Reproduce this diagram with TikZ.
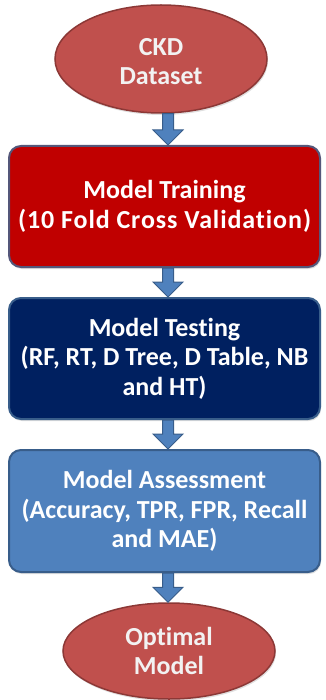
\documentclass[tikz,border=0pt]{standalone}
\usepackage{fontspec}
\setmainfont{Carlito}[Ligatures=NoCommon]
\usetikzlibrary{shapes.geometric,calc,shadows}
\definecolor{ellfill}{HTML}{C0504D}
\definecolor{elledge}{HTML}{8C3836}
\definecolor{redfill}{HTML}{C00000}
\definecolor{navyfill}{HTML}{002060}
\definecolor{bluefill}{HTML}{4F81BD}
\definecolor{blueedge}{HTML}{385D8A}
\definecolor{rededge}{HTML}{54577A}
\definecolor{elltext}{HTML}{F2F2F2}
\tikzset{
  boxtext/.style={font=\bfseries\fontsize{26}{29.5}\selectfont, align=center, text=white},
  ovalnode/.style={ellipse, fill=ellfill, draw=elledge, line width=1.5pt, inner sep=0pt,
    boxtext, text=elltext, drop shadow={shadow xshift=1pt, shadow yshift=-2pt, opacity=0.25}},
  stagebox/.style={rectangle, rounded corners=12pt, line width=2pt, draw=blueedge, inner sep=0pt,
    minimum width=311pt, minimum height=121pt, boxtext,
    drop shadow={shadow xshift=1pt, shadow yshift=-2pt, opacity=0.25}},
  blockarrow/.style={fill=bluefill, draw=blueedge, line width=1pt,
    to path={let \p1=(\tikztostart), \p2=(\tikztotarget) in
      (\x1-5.5pt,\y1) -- (\x1+5.5pt,\y1) -- (\x1+5.5pt,\y2+15pt) -- (\x1+15pt,\y2+15pt)
      -- (\x1,\y2) -- (\x1-15pt,\y2+15pt) -- (\x1-5.5pt,\y2+15pt) -- cycle}}
}
\begin{document}
\begin{tikzpicture}[x=1pt,y=-1pt]
\useasboundingbox (0,0) rectangle (325,700);
\node[ovalnode, minimum width=212pt, minimum height=108pt] (ckd) at (161,59)
  {\raisebox{-5pt}[\height][\depth]{\begin{tabular}{@{}c@{}}CKD\\Dataset\end{tabular}}};
\node[stagebox, fill=redfill, draw=rededge] (train) at (164.5,206.5)
  {Model Training\\{\addfontfeature{LetterSpace=3.5}(10 Fold Cross Validation)}};
\node[stagebox, fill=navyfill] (test) at (164.5,358.5) {Model Testing\\(RF, RT, D Tree, D Table, NB\\and HT)};
\node[stagebox, fill=bluefill, minimum height=122pt] (assess) at (164.5,511) {Model Assessment\\(Accuracy, TPR, FPR, Recall\\and MAE)};
\node[ovalnode, minimum width=212pt, minimum height=96pt] (opt) at (169,651) {Optimal\\Model};
\coordinate (ax) at (168,0);
\draw[blockarrow] (ckd.south -| ax) to (train.north -| ax);
\draw[blockarrow] (train.south -| ax) to (test.north -| ax);
\draw[blockarrow] (test.south -| ax) to (assess.north -| ax);
\draw[blockarrow] (assess.south -| ax) to (opt.north -| ax);
\end{tikzpicture}
\end{document}
